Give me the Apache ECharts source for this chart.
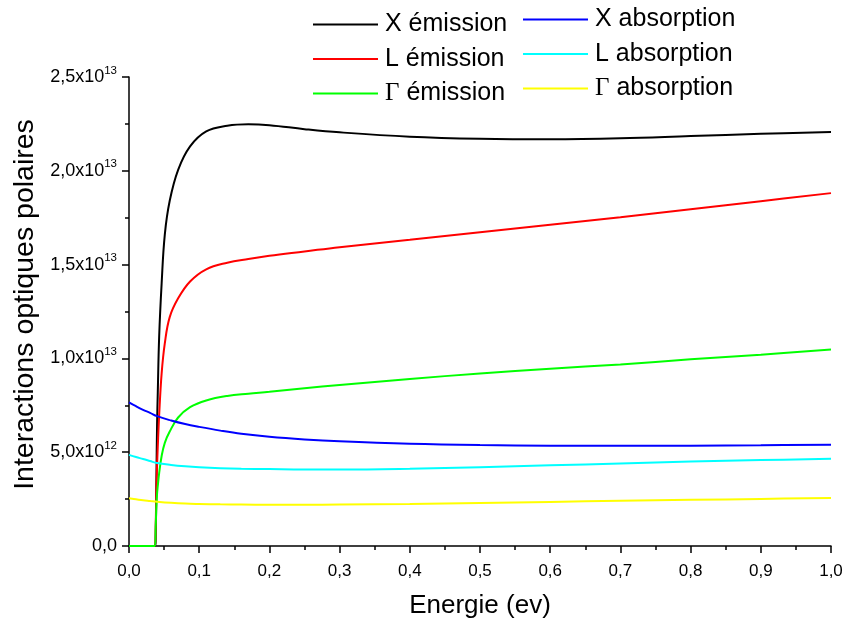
<!DOCTYPE html>
<html>
<head>
<meta charset="utf-8">
<title>Interactions optiques polaires</title>
<script src="https://cdn.jsdelivr.net/npm/echarts@6/dist/echarts.min.js"></script>
<style>
  html, body { margin: 0; padding: 0; background: #fff; }
  #chart { width: 846px; height: 624px; }
</style>
</head>
<body>
<div id="chart"></div>
<script>
// energie (eV) pour les courbes d'emission et d'absorption
const energyEmission = [0, 0.037, 0.038, 0.039, 0.040, 0.041, 0.043, 0.0465, 0.051, 0.058, 0.07, 0.087, 0.11, 0.14, 0.17, 0.2, 0.25, 0.3, 0.4, 0.5, 0.6, 0.7, 0.8, 0.9, 1.0];
const energyAbsorption = [0, 0.01, 0.02, 0.03, 0.04, 0.06, 0.08, 0.1, 0.13, 0.16, 0.2, 0.25, 0.3, 0.4, 0.5, 0.6, 0.7, 0.8, 0.9, 1.0];

// valeurs en unites de 1e12
const xEmission = [0, 0, 0.3, 3.5, 6.5, 8.2, 11.2, 14.0, 16.6, 18.4, 20.05, 21.3, 22.1, 22.4, 22.48, 22.43, 22.22, 22.05, 21.82, 21.71, 21.68, 21.73, 21.85, 21.97, 22.07];
const lEmission = [0, 0, 1.0, 3.0, 4.3, 5.3, 7.0, 9.2, 10.8, 12.2, 13.2, 14.1, 14.75, 15.1, 15.3, 15.47, 15.7, 15.93, 16.32, 16.72, 17.13, 17.53, 17.95, 18.38, 18.81];
const gEmission = [0, 0, 1.0, 2.1, 2.8, 3.2, 3.9, 4.8, 5.5, 6.1, 6.85, 7.4, 7.76, 8.0, 8.12, 8.22, 8.41, 8.58, 8.9, 9.2, 9.45, 9.68, 9.95, 10.2, 10.48];
const xAbsorption = [7.66, 7.45, 7.26, 7.1, 6.92, 6.69, 6.5, 6.35, 6.15, 5.98, 5.82, 5.68, 5.58, 5.45, 5.38, 5.35, 5.34, 5.35, 5.37, 5.4];
const lAbsorption = [4.86, 4.74, 4.64, 4.53, 4.42, 4.32, 4.25, 4.2, 4.15, 4.12, 4.1, 4.08, 4.08, 4.12, 4.2, 4.3, 4.4, 4.5, 4.58, 4.65];
const gAbsorption = [2.54, 2.49, 2.44, 2.4, 2.36, 2.3, 2.26, 2.24, 2.22, 2.21, 2.2, 2.2, 2.21, 2.24, 2.29, 2.35, 2.41, 2.46, 2.51, 2.56];

const yTicks = ["0,0", "5,0x10^12", "1,0x10^13", "1,5x10^13", "2,0x10^13", "2,5x10^13"];

const FONT = "Liberation Sans, Arial, sans-serif";

function pairs(xs, ys) {
  return xs.map((x, i) => [x, ys[i] * 1e12]);
}

function line(name, color, xs, ys) {
  return {
    name: name,
    type: "line",
    data: pairs(xs, ys),
    showSymbol: false,
    symbol: "none",
    smooth: 0.4,
    lineStyle: { color: color, width: 2 },
    itemStyle: { color: color }
  };
}

function legendName(name) {
  return name.charAt(0) === "Γ" ? "{g|Γ}" + name.slice(1) : name;
}

function legend(names, left, top) {
  return {
    data: names,
    orient: "vertical",
    left: left,
    top: top,
    padding: 0,
    itemGap: 9.5,
    itemWidth: 65,
    itemHeight: 2,
    icon: "rect",
    formatter: legendName,
    textStyle: {
      fontFamily: FONT,
      fontSize: 25,
      lineHeight: 25,
      color: "#000",
      padding: [0, 0, 0, 2],
      rich: { g: { fontFamily: "Liberation Serif, Times New Roman, serif", fontSize: 25 } }
    }
  };
}

const chart = echarts.init(document.getElementById("chart"));

chart.setOption({
  animation: false,
  backgroundColor: "#fff",
  grid: { left: 129, right: 15, top: 77, bottom: 77, containLabel: false },
  legend: [
    legend(["X émission", "L émission", "Γ émission"], 313, 12),
    legend(["X absorption", "L absorption", "Γ absorption"], 523, 7)
  ],
  xAxis: {
    type: "value",
    min: 0,
    max: 1,
    interval: 0.1,
    name: "Energie (ev)",
    nameLocation: "middle",
    nameGap: 47,
    nameTextStyle: { fontFamily: FONT, fontSize: 26, color: "#000" },
    axisLine: { lineStyle: { color: "#000", width: 1.5 } },
    axisTick: { length: 7, lineStyle: { color: "#000", width: 1.5 } },
    minorTick: { show: true, splitNumber: 2, length: 4, lineStyle: { color: "#000", width: 1.5 } },
    splitLine: { show: false },
    axisLabel: {
      fontFamily: FONT,
      fontSize: 17,
      color: "#000",
      margin: 17,
      formatter: v => v.toFixed(1).replace(".", ",")
    }
  },
  yAxis: {
    type: "value",
    min: 0,
    max: 2.5e13,
    interval: 5e12,
    name: "Interactions optiques polaires",
    nameLocation: "middle",
    nameRotate: 90,
    nameGap: 87,
    nameTextStyle: { fontFamily: FONT, fontSize: 28.5, color: "#000", padding: [0, 0, 0, 14] },
    axisLine: { show: true, lineStyle: { color: "#000", width: 1.5 } },
    axisTick: { show: true, length: 7, lineStyle: { color: "#000", width: 1.5 } },
    minorTick: { show: true, splitNumber: 2, length: 4, lineStyle: { color: "#000", width: 1.5 } },
    splitLine: { show: false },
    axisLabel: {
      fontFamily: FONT,
      color: "#000",
      margin: 12,
      formatter: (v, i) => {
        const parts = yTicks[i].split("^");
        return parts.length > 1 ? "{m|" + parts[0] + "}{s|" + parts[1] + "}" : "{m|" + parts[0] + "}";
      },
      rich: {
        m: { fontFamily: FONT, fontSize: 18, lineHeight: 25, color: "#000" },
        s: { fontFamily: FONT, fontSize: 11.5, verticalAlign: "top", color: "#000" }
      }
    }
  },
  series: [
    line("X émission", "#000000", energyEmission, xEmission),
    line("L émission", "#ff0000", energyEmission, lEmission),
    line("Γ émission", "#00ff00", energyEmission, gEmission),
    line("X absorption", "#0000ff", energyAbsorption, xAbsorption),
    line("L absorption", "#00ffff", energyAbsorption, lAbsorption),
    line("Γ absorption", "#ffff00", energyAbsorption, gAbsorption)
  ]
});
</script>
</body>
</html>
